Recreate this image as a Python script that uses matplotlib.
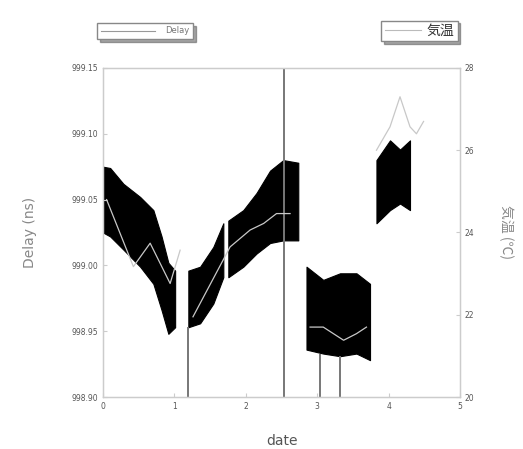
import matplotlib
matplotlib.use('Agg')
import matplotlib.pyplot as plt
from matplotlib.lines import Line2D

plt.rcParams['font.family'] = ['DejaVu Sans', 'Noto Sans CJK JP']

# Delay band (min / max envelope of the dense trace), one list per segment
delay_x = [
    [0.00, 0.10, 0.285, 0.52, 0.705, 0.82, 0.915, 1.01],
    [1.195, 1.36, 1.545, 1.685],
    [1.755, 1.965, 2.15, 2.34, 2.525, 2.735],
    [2.85, 3.085, 3.32, 3.55, 3.74],
    [3.83, 4.02, 4.16, 4.30],
]
delay_hi = [
    [999.075, 999.074, 999.062, 999.052, 999.042, 999.022, 999.002, 998.996],
    [998.996, 998.999, 999.014, 999.032],
    [999.034, 999.042, 999.055, 999.072, 999.080, 999.078],
    [998.999, 998.989, 998.994, 998.994, 998.986],
    [999.080, 999.095, 999.088, 999.095],
]
delay_lo = [
    [999.025, 999.022, 999.012, 998.999, 998.986, 998.966, 998.948, 998.953],
    [998.953, 998.956, 998.971, 998.991],
    [998.991, 998.999, 999.009, 999.017, 999.019, 999.019],
    [998.936, 998.933, 998.931, 998.933, 998.928],
    [999.032, 999.042, 999.047, 999.042],
]
# single outlier spikes of the delay trace
spike_x = [1.195, 2.53, 3.04, 3.32]
spike_top = [998.953, 999.15, 998.933, 998.931]

# temperature segments
temp_x = [
    [0.05, 0.425, 0.66, 0.94, 1.08],
    [1.26, 1.78, 2.06, 2.25, 2.43, 2.62],
    [2.90, 3.085, 3.37, 3.55, 3.69],
    [3.83, 4.02, 4.16, 4.30, 4.39, 4.49],
]
temp_y = [
    [24.8, 23.17, 23.74, 22.76, 23.57],
    [21.95, 23.65, 24.06, 24.22, 24.46, 24.46],
    [21.7, 21.7, 21.38, 21.54, 21.7],
    [26.0, 26.57, 27.3, 26.57, 26.4, 26.7],
]

fig = plt.figure(figsize=(5.23, 4.49), dpi=100)
ax = fig.add_axes([0.197, 0.1158, 0.6825, 0.7328])
ax2 = ax.twinx()

for xs, hi, lo in zip(delay_x, delay_hi, delay_lo):
    ax.fill_between(xs, lo, hi, color='black', lw=0.8, edgecolor='black')
ax.vlines(spike_x, 998.90, spike_top, color='#777777', lw=1.4)

for xs, ys in zip(temp_x, temp_y):
    ax2.plot(xs, ys, color='#c8c8c8', lw=0.9)

ax.set_xlim(0, 5)
ax.set_ylim(998.90, 999.15)
ax.set_xticks([0, 1, 2, 3, 4, 5])
ax.set_yticks([998.90, 998.95, 999.00, 999.05, 999.10, 999.15])
ax.set_yticklabels(['%.2f' % v for v in ax.get_yticks()])
ax2.set_ylim(20, 28)
ax2.set_yticks([20, 22, 24, 26, 28])

for a in (ax, ax2):
    for s in a.spines.values():
        s.set_color('#cccccc')
        s.set_linewidth(0.9)
    a.tick_params(colors='#cccccc', labelcolor='#555555', labelsize=5.5,
                  direction='in', length=3)

ax.set_xlabel('date', color='#555555', fontsize=10, labelpad=17)
ax.set_ylabel('Delay (ns)', color='#888888', fontsize=10, labelpad=25)
ax2.set_ylabel('気温 (℃)', color='#888888', fontsize=10, rotation=270,
               labelpad=28, family=['Noto Sans CJK JP', 'DejaVu Sans'])

leg1 = fig.legend([Line2D([], [], color='#999999', lw=0.8)], ['Delay'],
                  loc='center', bbox_to_anchor=(0.278, 0.931), fontsize=6,
                  frameon=True, fancybox=False, shadow=True, handlelength=6.5,
                  borderpad=0.45, handletextpad=1.2)
leg1.get_frame().set_edgecolor('#888888')
for t in leg1.get_texts():
    t.set_color('#777777')

leg2 = fig.legend([Line2D([], [], color='#bbbbbb', lw=0.8)], ['気温'],
                  loc='center', bbox_to_anchor=(0.802, 0.931),
                  frameon=True, fancybox=False, shadow=True, handlelength=2.6,
                  borderpad=0.25, handletextpad=0.4,
                  prop={'family': ['Noto Sans CJK JP', 'DejaVu Sans'], 'size': 10})
leg2.get_frame().set_edgecolor('#888888')
for t in leg2.get_texts():
    t.set_color('#333333')

fig.savefig('out.png', dpi=100)
